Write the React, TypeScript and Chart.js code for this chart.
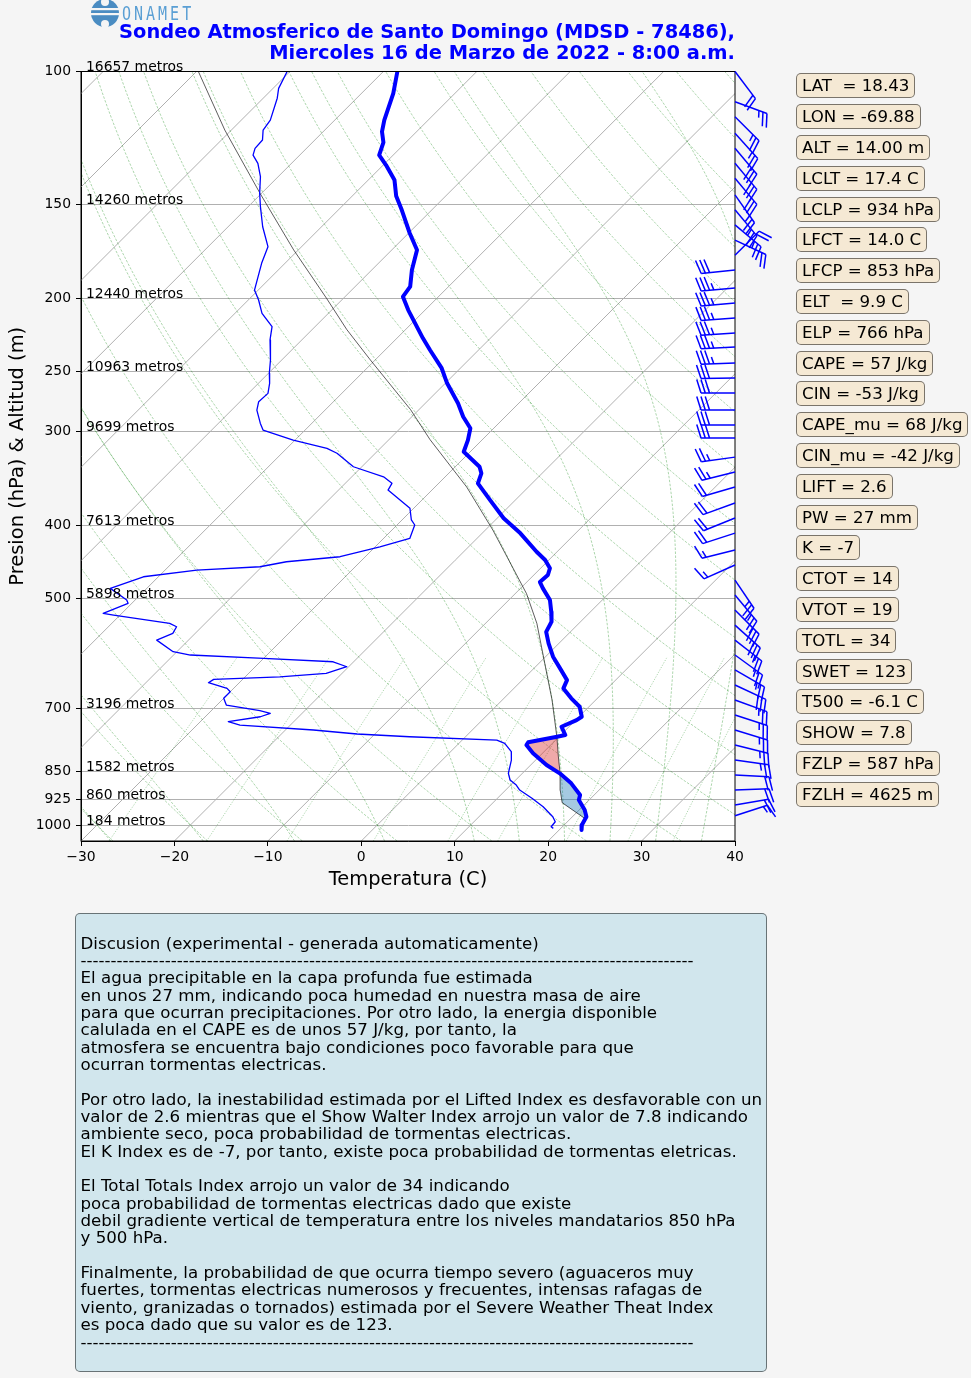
import React, { useEffect, useRef } from 'react';
import { Chart, registerables } from 'chart.js';

Chart.register(...registerables);

const FONT = '"DejaVu Sans", "Liberation Sans", sans-serif';

// ---------------- data ----------------
const tempPressure = [100, 106.9, 116.0, 120.2, 124.2, 129.1, 133.1, 139.3, 146.3, 152.7, 163.8, 172.5, 183.4, 193.0, 199.0, 207.3, 226.0, 234.2, 247.6, 259.3, 275.6, 287.2, 297.5, 308.4, 319.6, 334.6, 341.4, 352.0, 370.5, 391.7, 410.1, 433.8, 444.9, 456.3, 465.8, 475.9, 485.2, 502.8, 521.2, 537.4, 554.1, 574.1, 597.9, 619.6, 642.2, 658.7, 678.9, 696.6, 718.3, 725.6, 740.6, 759.6, 763.5, 776.6, 783.1, 803.2, 832.5, 853.9, 880.4, 912.4, 926.4, 955.2, 975.0, 1000, 1015.3];
const tempValues = [-78.5, -76.6, -74.7, -73.7, -72.4, -71.5, -69.7, -67.2, -65.3, -63.2, -59.9, -57.3, -55.7, -54.1, -53.8, -51.8, -47.2, -45.2, -42.0, -39.8, -36.5, -34.5, -32.5, -31.5, -30.7, -27.4, -26.5, -25.8, -22.7, -19.3, -15.9, -12.2, -10.4, -9.0, -8.5, -8.6, -7.6, -5.6, -4.2, -3.1, -2.6, -1.1, 0.8, 2.8, 4.8, 5.3, 7.2, 9.0, 10.3, 10.1, 9.2, 10.5, 9.8, 7.3, 7.4, 9.0, 11.7, 14.0, 16.3, 18.5, 18.9, 20.6, 21.5, 21.9, 22.4];

const dewPressure = [100, 105.3, 108.5, 116.0, 119.6, 123.3, 126.5, 129.1, 132.4, 137.9, 145.1, 151.1, 160.7, 170.8, 179.7, 195.0, 201.0, 209.4, 218.1, 227.1, 241.5, 251.5, 259.3, 267.4, 274.3, 281.4, 293.1, 299.1, 308.4, 316.3, 321.1, 334.6, 345.0, 352.0, 359.3, 379.9, 393.7, 399.8, 416.5, 427.3, 440.5, 447.3, 454.2, 458.8, 468.3, 485.2, 502.8, 507.9, 523.6, 526.4, 540.0, 545.6, 556.7, 568.3, 588.8, 594.8, 600.9, 607.2, 616.5, 629.1, 635.7, 640.7, 647.4, 658.7, 665.5, 678.9, 693.0, 705.2, 710.9, 718.3, 729.3, 736.7, 748.0, 757.2, 763.5, 771.3, 779.1, 799.3, 819.9, 853.9, 871.5, 885.0, 898.6, 921.6, 945.7, 975.0, 990.0, 1005.3, 1010.2];
const dewValues = [-90.3, -89.4, -88.5, -86.9, -86.6, -85.6, -85.5, -85.0, -83.6, -81.9, -80.2, -78.7, -76.3, -73.6, -72.5, -70.4, -68.9, -67.1, -64.6, -63.4, -61.2, -59.9, -58.8, -57.9, -58.0, -57.3, -55.5, -54.5, -50.2, -45.7, -44.1, -40.9, -36.6, -35.0, -34.7, -30.4, -29.0, -28.1, -27.2, -29.5, -32.7, -37.9, -40.2, -46.6, -51.6, -53.9, -50.9, -50.4, -52.0, -50.7, -43.8, -42.7, -42.4, -43.4, -40.4, -38.2, -30.0, -22.2, -20.2, -21.7, -26.3, -33.1, -33.3, -30.7, -30.0, -30.0, -29.0, -24.8, -23.4, -24.1, -27.0, -25.4, -17.0, -11.9, -6.0, 3.7, 4.9, 6.5, 7.4, 8.5, 9.4, 10.6, 11.5, 13.7, 15.8, 17.9, 18.7, 18.8, 19.2];

const parcelPressure = [980, 934, 900, 853, 810, 766, 682, 629, 540, 493, 406, 356, 308, 281, 241.5, 220, 200, 172.5, 145, 119.6, 100];
const parcelValues = [21.5, 17.4, 15.9, 14.0, 12.0, 9.9, 5.3, 1.9, -4.5, -8.8, -19.2, -26.6, -35.6, -40.9, -50.5, -56.3, -61.8, -70.5, -80.2, -90.7, -99.8];

const LFC_P = 853.9;
const EL_P = 766;
const PARCEL_START_P = 980;

const pressureTicks = [100, 150, 200, 250, 300, 400, 500, 700, 850, 925, 1000];
const heightLabels = ['16657 metros', '14260 metros', '12440 metros', '10963 metros', '9699 metros', '7613 metros', '5898 metros', '3196 metros', '1582 metros', '860 metros', '184 metros'];
const tempTicks = [-30, -20, -10, 0, 10, 20, 30, 40];

const isothermValues = [-120, -110, -100, -90, -80, -70, -60, -50, -40, -30, -20, -10, 0, 10, 20, 30, 40];
const dryAdiabatT0 = [-40, -30, -20, -10, 0, 10, 20, 30, 40, 50, 60, 70, 80, 90, 100, 110, 120, 130, 140, 150, 160, 170, 180, 190];
const moistAdiabatT0 = [-50, -40, -30, -20, -10, 0, 10, 15, 20, 25, 30, 35, 40];
const mixingRatios = [0.0004, 0.001, 0.002, 0.004, 0.007, 0.01, 0.016, 0.024, 0.032];

// wind barbs: pressure (hPa), direction (deg from), speed (kt)
const barbPressure = [100, 109.7, 114.8, 120.8, 126.4, 132.4, 138.6, 145.8, 152.6, 159.8, 167.4, 175.3,
  183.4, 193.8, 202.9, 212.4, 222.3, 232.1, 243.7, 255.1, 267.1, 281.4, 294.6, 306.5, 324.9, 340.1, 356.0, 373.8, 391.4, 409.8, 431.5, 451.8,
  473.1, 495.3, 518.5, 542.9, 568.3, 594.8, 622.6, 651.8, 682.5, 714.5, 748.0, 783.1, 819.9, 858.2, 898.6, 940.8, 972.0];
const barbDirection = [143, 110, 135, 138, 140, 140, 140, 145, 140, 130, 115, 45,
  264, 265, 265, 266, 266, 267, 268, 269, 270, 270, 270, 270, 262, 256, 254, 250, 248, 252, 256, 246,
  146, 140, 135, 132, 128, 126, 120, 115, 110, 108, 107, 104, 98, 93, 88, 80, 72];
const barbSpeed = [20, 25, 25, 25, 30, 30, 30, 25, 25, 25, 20, 20,
  30, 35, 35, 35, 35, 35, 35, 30, 30, 30, 30, 30, 25, 25, 20, 20, 20, 20, 15, 15,
  25, 25, 30, 30, 25, 25, 25, 30, 25, 25, 25, 25, 25, 20, 20, 20, 15];

const indexLabels = ['LAT  = 18.43', 'LON = -69.88', 'ALT = 14.00 m', 'LCLT = 17.4 C', 'LCLP = 934 hPa', 'LFCT = 14.0 C', 'LFCP = 853 hPa', 'ELT  = 9.9 C', 'ELP = 766 hPa', 'CAPE = 57 J/kg', 'CIN = -53 J/kg', 'CAPE_mu = 68 J/kg', 'CIN_mu = -42 J/kg', 'LIFT = 2.6', 'PW = 27 mm', 'K = -7', 'CTOT = 14', 'VTOT = 19', 'TOTL = 34', 'SWET = 123', 'T500 = -6.1 C', 'SHOW = 7.8', 'FZLP = 587 hPa', 'FZLH = 4625 m'];

const DASHES = '-'.repeat(102);
const discussionLines = [
  'Discusion (experimental - generada automaticamente)',
  DASHES,
  'El agua precipitable en la capa profunda fue estimada',
  'en unos 27 mm, indicando poca humedad en nuestra masa de aire',
  'para que ocurran precipitaciones. Por otro lado, la energia disponible',
  'calulada en el CAPE es de unos 57 J/kg, por tanto, la',
  'atmosfera se encuentra bajo condiciones poco favorable para que',
  'ocurran tormentas electricas.',
  '',
  'Por otro lado, la inestabilidad estimada por el Lifted Index es desfavorable con un',
  'valor de 2.6 mientras que el Show Walter Index arrojo un valor de 7.8 indicando',
  'ambiente seco, poca probabilidad de tormentas electricas.',
  'El K Index es de -7, por tanto, existe poca probabilidad de tormentas eletricas.',
  '',
  'El Total Totals Index arrojo un valor de 34 indicando',
  'poca probabilidad de tormentas electricas dado que existe',
  'debil gradiente vertical de temperatura entre los niveles mandatarios 850 hPa',
  'y 500 hPa.',
  '',
  'Finalmente, la probabilidad de que ocurra tiempo severo (aguaceros muy',
  'fuertes, tormentas electricas numerosos y frecuentes, intensas rafagas de',
  'viento, granizadas o tornados) estimada por el Severe Weather Theat Index',
  'es poca dado que su valor es de 123.',
  DASHES,
];

const TITLE_LINES = ['Sondeo Atmosferico de Santo Domingo (MDSD - 78486),', 'Miercoles 16 de Marzo de 2022 - 8:00 a.m.'];

// ---------------- layout ----------------
const W = 971;
const H = 1378;
const PLOT_LEFT = 81;
const PLOT_RIGHT = 735;
const PLOT_TOP = 71.5;
const PLOT_BOTTOM = 841;
const P_TOP = 100;
const P_BOT = 1050;
const T_MIN = -30;
const T_MAX = 40;
// 45 degree skew in pixel space
const SKEW = (PLOT_BOTTOM - PLOT_TOP) / ((PLOT_RIGHT - PLOT_LEFT) / (T_MAX - T_MIN));
const skewX = (t: number, p: number) => t + (SKEW * Math.log(P_BOT / p)) / Math.log(P_BOT / P_TOP);

// ---------------- thermodynamics for background lines ----------------
const Rd = 287.04749;
const Cp = 1005.7;
const Lv = 2.50084e6;
const EPS = 0.622;
const satVap = (tc: number) => 6.112 * Math.exp((17.67 * tc) / (tc + 243.5));
const dTdp = (p: number, Tk: number) => {
  const es = satVap(Tk - 273.15);
  const rs = (EPS * es) / (p - es);
  return (Rd * Tk + Lv * rs) / (p * (Cp + (Lv * Lv * rs * EPS) / (Rd * Tk * Tk)));
};
const integrate = (Tk: number, p1: number, p2: number) => {
  const n = Math.max(1, Math.ceil(Math.abs(p2 - p1) / 2));
  const h = (p2 - p1) / n;
  let p = p1;
  let T = Tk;
  for (let i = 0; i < n; i++) {
    const k1 = dTdp(p, T);
    const k2 = dTdp(p + h / 2, T + (h / 2) * k1);
    const k3 = dTdp(p + h / 2, T + (h / 2) * k2);
    const k4 = dTdp(p + h, T + h * k3);
    T += (h / 6) * (k1 + 2 * k2 + 2 * k3 + k4);
    p += h;
  }
  return T;
};
const levelsBetween = (pHigh: number, pLow: number, n: number) => {
  const out: number[] = [];
  for (let i = 0; i < n; i++) out.push(pHigh * Math.pow(pLow / pHigh, i / (n - 1)));
  return out;
};
const fullLevels = levelsBetween(P_BOT, P_TOP, 90);

const dryLine = (t0: number) =>
  fullLevels.map((p) => ({ x: skewX((t0 + 273.15) * Math.pow(p / 1000, Rd / Cp) - 273.15, p), y: p }));
const moistLine = (t0: number) => {
  let T = integrate(t0 + 273.15, 1000, P_BOT);
  let pPrev = P_BOT;
  return fullLevels.map((p) => {
    T = integrate(T, pPrev, p);
    pPrev = p;
    return { x: skewX(T - 273.15, p), y: p };
  });
};
const mixLine = (w: number) =>
  levelsBetween(P_BOT, 600, 30).map((p) => {
    const e = (p * w) / (EPS + w);
    const a = Math.log(e / 6.112);
    return { x: skewX((243.5 * a) / (17.67 - a), p), y: p };
  });

const profile = (ps: number[], ts: number[]) => ps.map((p, i) => ({ x: skewX(ts[i], p), y: p }));

// area polygons between environment and parcel
const polygon = (pLow: number, pHigh: number) => {
  const env = tempPressure
    .map((p, i) => ({ p, t: tempValues[i] }))
    .filter((d) => d.p >= pHigh && d.p <= pLow)
    .sort((a, b) => b.p - a.p);
  const par = parcelPressure
    .map((p, i) => ({ p, t: parcelValues[i] }))
    .filter((d) => d.p >= pHigh - 0.5 && d.p <= pLow + 0.5)
    .sort((a, b) => a.p - b.p);
  return [...env, ...par].map((d) => ({ x: skewX(d.t, d.p), y: d.p }));
};

// ---------------- plugins ----------------
const bgPlugin = {
  id: 'axesBg',
  beforeDraw(chart: any) {
    const { ctx, chartArea: a } = chart;
    ctx.save();
    ctx.fillStyle = '#ffffff';
    ctx.fillRect(a.left, a.top, a.right - a.left, a.bottom - a.top);
    ctx.restore();
  },
};

const drawBarb = (ctx: CanvasRenderingContext2D, x0: number, y0: number, dirDeg: number, speed: number, L: number) => {
  const d = (dirDeg * Math.PI) / 180;
  const sx = Math.sin(d);
  const sy = -Math.cos(d);
  const bx = Math.cos(d);
  const by = Math.sin(d);
  const pt = (lx: number, ly: number): [number, number] => [x0 + ly * sx + lx * bx, y0 + ly * sy + lx * by];
  let s = Math.round(speed / 5) * 5;
  const nFlags = Math.floor(s / 50);
  s -= nFlags * 50;
  const nBarbs = Math.floor(s / 10);
  s -= nBarbs * 10;
  const half = s >= 5;
  const h = 0.4 * L;
  const w = 0.25 * L;
  const sp = 0.125 * L;
  ctx.beginPath();
  ctx.moveTo(...pt(0, 0));
  ctx.lineTo(...pt(0, L));
  ctx.stroke();
  let off = L;
  for (let i = 0; i < nFlags; i++) {
    if (off !== L) off += sp / 2;
    ctx.beginPath();
    ctx.moveTo(...pt(0, off));
    ctx.lineTo(...pt(h, off - w / 2));
    ctx.lineTo(...pt(0, off - w));
    ctx.closePath();
    ctx.fill();
    ctx.stroke();
    off -= w + sp;
  }
  for (let i = 0; i < nBarbs; i++) {
    ctx.beginPath();
    ctx.moveTo(...pt(0, off));
    ctx.lineTo(...pt(h, off + w / 2));
    ctx.stroke();
    off -= sp;
  }
  if (half) {
    if (off === L) off -= 1.5 * sp;
    ctx.beginPath();
    ctx.moveTo(...pt(0, off));
    ctx.lineTo(...pt(h / 2, off + w / 4));
    ctx.stroke();
  }
};

const overlayPlugin = {
  id: 'overlay',
  afterDatasetsDraw(chart: any) {
    const { ctx, chartArea: a } = chart;
    const yScale = chart.scales.y;
    ctx.save();
    // frame
    ctx.strokeStyle = '#000';
    ctx.lineWidth = 1;
    ctx.strokeRect(a.left, a.top, a.right - a.left, a.bottom - a.top);
    // height labels
    ctx.fillStyle = '#000';
    ctx.font = `13.9px ${FONT}`;
    ctx.textAlign = 'left';
    ctx.textBaseline = 'alphabetic';
    pressureTicks.forEach((p, i) => {
      ctx.fillText(heightLabels[i], a.left + 5, yScale.getPixelForValue(p) - 0.5);
    });
    // wind barbs
    ctx.strokeStyle = '#0000ff';
    ctx.fillStyle = '#0000ff';
    ctx.lineWidth = 1.5;
    ctx.lineJoin = 'round';
    barbPressure.forEach((p, i) => {
      drawBarb(ctx, a.right, yScale.getPixelForValue(p), barbDirection[i], barbSpeed[i], 34);
    });
    ctx.restore();
  },
};

const minusLabel = (v: number) => (v < 0 ? '\u2212' + Math.abs(v) : String(v));

export default function App() {
  const ref = useRef<HTMLCanvasElement | null>(null);

  useEffect(() => {
    if (!ref.current) return;
    const green = 'rgba(0,128,0,0.55)';
    const base = { pointRadius: 0, tension: 0, fill: false, borderJoinStyle: 'round' as const };
    const datasets: any[] = [];

    datasets.push({ ...base, data: profile(tempPressure, tempValues), borderColor: '#0000ff', borderWidth: 4, order: 0 });
    datasets.push({ ...base, data: profile(dewPressure, dewValues), borderColor: '#0000ff', borderWidth: 1.3, order: 1 });
    datasets.push({ ...base, data: profile(parcelPressure, parcelValues), borderColor: 'rgba(0,0,0,0.8)', borderWidth: 0.8, order: 2 });
    datasets.push({ ...base, data: polygon(LFC_P, EL_P), fill: 'shape', backgroundColor: 'rgba(214,39,40,0.4)', borderWidth: 0, borderColor: 'rgba(0,0,0,0)', order: 3 });
    datasets.push({ ...base, data: polygon(PARCEL_START_P, LFC_P), fill: 'shape', backgroundColor: 'rgba(31,119,180,0.4)', borderWidth: 0, borderColor: 'rgba(0,0,0,0)', order: 4 });

    dryAdiabatT0.forEach((t0) =>
      datasets.push({ ...base, data: dryLine(t0), borderColor: green, borderWidth: 0.6, borderDash: [2.5, 1.5], order: 10 })
    );
    moistAdiabatT0.forEach((t0) =>
      datasets.push({ ...base, data: moistLine(t0), borderColor: green, borderWidth: 0.6, borderDash: [2.5, 1.5], order: 11 })
    );
    mixingRatios.forEach((w) =>
      datasets.push({ ...base, data: mixLine(w), borderColor: green, borderWidth: 0.6, borderDash: [1.2, 1.5], order: 12 })
    );
    isothermValues.forEach((t) =>
      datasets.push({
        ...base,
        data: [
          { x: skewX(t, P_BOT), y: P_BOT },
          { x: skewX(t, P_TOP), y: P_TOP },
        ],
        borderColor: '#b0b0b0',
        borderWidth: 1,
        order: 13,
      })
    );

    const chart = new Chart(ref.current, {
      type: 'line',
      data: { datasets },
      options: {
        responsive: false,
        animation: false,
        devicePixelRatio: 1,
        events: [],
        layout: { padding: { left: 0, right: W - PLOT_RIGHT, top: PLOT_TOP, bottom: 486 } },
        plugins: { legend: { display: false }, tooltip: { enabled: false }, title: { display: false } },
        scales: {
          x: {
            type: 'linear',
            min: T_MIN,
            max: T_MAX,
            afterBuildTicks: (s: any) => {
              s.ticks = tempTicks.map((v) => ({ value: v }));
            },
            ticks: { callback: (v: any) => minusLabel(Number(v)), color: '#000', font: { family: FONT, size: 13.9 }, padding: 3, autoSkip: false, maxRotation: 0 },
            grid: { drawOnChartArea: false, drawTicks: true, tickLength: 5, tickColor: '#000' },
            border: { display: true, color: '#000', width: 1 },
            title: { display: true, text: 'Temperatura (C)', color: '#000', font: { family: FONT, size: 19.44 }, padding: { top: 0, bottom: 0 } },
            afterFit: (s: any) => {
              s.height = 51;
            },
          },
          y: {
            type: 'logarithmic',
            reverse: true,
            min: P_TOP,
            max: P_BOT,
            bounds: 'data',
            afterBuildTicks: (s: any) => {
              s.ticks = pressureTicks.map((v) => ({ value: v }));
            },
            ticks: { callback: (v: any) => String(v), color: '#000', font: { family: FONT, size: 13.9 }, padding: 5, autoSkip: false },
            grid: { color: '#b0b0b0', lineWidth: 1, drawTicks: true, tickLength: 5, tickColor: '#000' },
            border: { display: true, color: '#000', width: 1 },
            title: { display: true, text: 'Presion (hPa) & Altitud (m)', color: '#000', font: { family: FONT, size: 19.44 }, padding: { top: 6, bottom: 0 } },
            afterFit: (s: any) => {
              s.width = PLOT_LEFT;
            },
          },
        },
      } as any,
      plugins: [bgPlugin, overlayPlugin],
    });
    return () => chart.destroy();
  }, []);

  return (
    <div style={{ position: 'absolute', left: 0, top: 0, width: W, height: H, background: '#f5f5f5', overflow: 'hidden', fontFamily: FONT }}>
      <canvas ref={ref} width={W} height={H} style={{ position: 'absolute', left: 0, top: 0, width: W, height: H }} />
      {/* logo */}
      <svg style={{ position: 'absolute', left: 90, top: -2 }} width={30} height={30} viewBox="0 0 30 30">
        <circle cx={15} cy={15} r={14} fill="#4a8cc2" />
        <rect x={0} y={10} width={30} height={2.2} fill="#f5f5f5" />
        <rect x={0} y={15} width={30} height={2.2} fill="#f5f5f5" />
        <circle cx={15} cy={4} r={4} fill="#f5f5f5" />
        <circle cx={15} cy={26} r={4} fill="#f5f5f5" />
      </svg>
      <div style={{ position: 'absolute', left: 122, top: 3, fontFamily: '"DejaVu Sans Mono", monospace', fontSize: 20, letterSpacing: 4, color: '#5a9fd4', transform: 'scaleX(0.75)', transformOrigin: 'left top', lineHeight: '20px' }}>ONAMET</div>
      {/* title */}
      <div style={{ position: 'absolute', right: W - PLOT_RIGHT, top: 20.5, textAlign: 'right', fontWeight: 'bold', fontSize: 19.44, lineHeight: '21.7px', color: '#0000ff', whiteSpace: 'pre' }}>
        {TITLE_LINES.map((t) => (
          <div key={t}>{t}</div>
        ))}
      </div>
      {/* index boxes */}
      {indexLabels.map((t, i) => (
        <div
          key={t}
          style={{
            position: 'absolute',
            left: 796,
            top: 73.3 + i * 30.8,
            height: 25,
            boxSizing: 'border-box',
            padding: '0 5px',
            border: '1px solid rgba(0,0,0,0.5)',
            borderRadius: 5,
            background: 'rgba(245,222,179,0.5)',
            fontSize: 16.67,
            lineHeight: '23px',
            whiteSpace: 'pre',
            color: '#000',
          }}
        >
          {t}
        </div>
      ))}
      {/* discussion */}
      <div
        style={{
          position: 'absolute',
          left: 75,
          top: 913,
          width: 692,
          height: 459,
          boxSizing: 'border-box',
          border: '1px solid rgba(0,0,0,0.5)',
          borderRadius: 5,
          background: 'rgba(173,216,230,0.5)',
          padding: '20.6px 0 0 4.5px',
          fontSize: 16.67,
          lineHeight: '17.35px',
          whiteSpace: 'pre',
          color: '#000',
          overflow: 'hidden',
        }}
      >
        {discussionLines.map((l, i) => (
          <div key={i} style={{ height: 17.35 }}>{l}</div>
        ))}
      </div>
    </div>
  );
}
